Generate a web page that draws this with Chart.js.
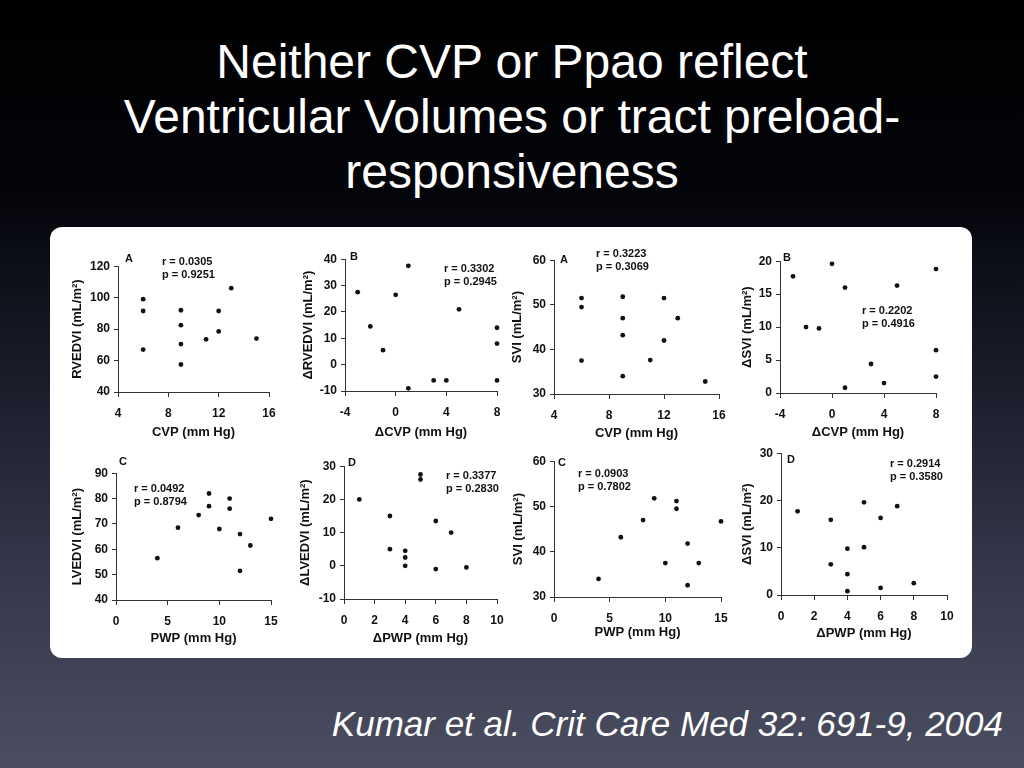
<!DOCTYPE html>
<html>
<head>
<meta charset="utf-8">
<script src="https://cdn.jsdelivr.net/npm/chart.js@4.4.1/dist/chart.umd.min.js"></script>
<style>
  html, body { margin: 0; padding: 0; }
  body {
    width: 1024px; height: 768px; overflow: hidden; position: relative;
    background: linear-gradient(to bottom, #000 0%, #04050a 25%, #1b1d2b 50%, #35384b 75%, #4b4e60 100%);
    font-family: "Liberation Sans", Arial, sans-serif;
  }
  #title {
    position: absolute; left: 0; top: 34px; width: 1024px;
    color: #fff; font-size: 48px; line-height: 55px; text-align: center;
  }
  #cite {
    position: absolute; right: 21px; top: 704px;
    color: #fff; font-size: 35px; font-style: italic; white-space: nowrap;
  }
  #card {
    position: absolute; left: 50px; top: 227px; width: 922px; height: 431px;
    background: #fff; border-radius: 12px;
  }
  .plot { position: absolute; }
  .note {
    position: absolute; color: #111; font-weight: bold; white-space: pre;
    font-size: 11px; line-height: 13px;
  }
</style>
</head>
<body>
<div id="title">Neither CVP or Ppao reflect<br>Ventricular Volumes or tract preload-<br>responsiveness</div>
<div id="card"></div>
<div id="cite">Kumar et al. Crit Care Med 32: 691-9, 2004</div>

<script>
// Eight scatter panels from Kumar et al. (2004).
const FONT = '"Liberation Sans", Arial, sans-serif';
const INK = "#111";
const AXIS = "#333";

// ─── Data ──────────────────────────────────────────────────────────────────
const cvpA      = [6, 6, 6, 9, 9, 9, 9, 11, 12, 12, 13, 15];
const rvedviA   = [99, 91.5, 67, 92, 82.5, 70.5, 57.5, 73.5, 91.5, 78.5, 106, 74];

const dCvpB     = [-3, -2, -1, 0, 1, 1, 3, 4, 5, 8, 8, 8];
const dRvedviB  = [27.5, 14.5, 5.5, 26.5, 37.5, -9, -6, -6, 21, 14, 8, -6];

const cvpSviA   = [6, 6, 6, 9, 9, 9, 9, 11, 12, 12, 13, 15];
const sviA      = [51.5, 49.5, 37.5, 51.8, 47, 43.2, 34, 37.6, 51.5, 42, 47, 32.8];

const dCvpSviB  = [-3, -2, -1, 0, 1, 1, 3, 4, 5, 8, 8, 8];
const dSviB     = [17.7, 10, 9.8, 19.6, 16, 0.8, 4.4, 1.5, 16.3, 18.8, 6.5, 2.5];

const pwpC      = [4, 6, 8, 9, 9, 10, 11, 11, 12, 12, 13, 15];
const lvedviC   = [56.5, 68.5, 73.5, 82, 77, 68, 80, 76, 66, 51.5, 61.5, 72];

const dPwpD     = [1, 3, 3, 4, 4, 4, 5, 5, 6, 6, 7, 8];
const dLvedviD  = [20, 15, 5, 4.5, 2.5, 0, 27.5, 26, 13.5, -1, 10, -0.5];

const pwpSviC   = [4, 6, 8, 9, 10, 11, 11, 12, 12, 13, 15];
const sviC      = [34, 43.2, 47, 51.8, 37.5, 51.2, 49.5, 41.8, 32.6, 37.5, 46.7];

const dPwpSviD  = [1, 3, 3, 4, 4, 4, 5, 5, 6, 6, 7, 8];
const dSviD     = [17.7, 15.9, 6.5, 9.8, 4.4, 0.8, 19.6, 10.1, 16.3, 1.5, 18.8, 2.5];

// axis ranges: [min, max, step]
const xCvp  = [4, 16, 4],  xDcvp = [-4, 8, 4],  xPwp = [0, 15, 5], xDpwp = [0, 10, 2];

// ─── Panels ────────────────────────────────────────────────────────────────
// box = [axisX, plotTop, plotRight, axisY] in page pixels; yOff/xOff = title distance
const PANELS = [
  { xs: cvpA, ys: rvedviA, xr: xCvp, yr: [40, 120, 20], xt: "CVP (mm Hg)", yt: "RVEDVI (mL/m²)",
    box: [118, 265, 269, 392], yOff: 40, xOff: 40,
    letter: ["A", 125, 252], stats: ["r = 0.0305\np = 0.9251", 162, 255] },
  { xs: dCvpB, ys: dRvedviB, xr: xDcvp, yr: [-10, 40, 10], xt: "ΔCVP (mm Hg)", yt: "ΔRVEDVI (mL/m²)",
    box: [345, 258, 497, 391], yOff: 36, xOff: 41,
    letter: ["B", 350, 250], stats: ["r = 0.3302\np = 0.2945", 444, 262] },
  { xs: cvpSviA, ys: sviA, xr: xCvp, yr: [30, 60, 10], xt: "CVP (mm Hg)", yt: "SVI (mL/m²)",
    box: [554, 259, 719, 394], yOff: 36, xOff: 39,
    letter: ["A", 560, 253], stats: ["r = 0.3223\np = 0.3069", 596, 247] },
  { xs: dCvpSviB, ys: dSviB, xr: xDcvp, yr: [0, 20, 5], xt: "ΔCVP (mm Hg)", yt: "ΔSVI (mL/m²)",
    box: [780, 260, 936, 393], yOff: 32, xOff: 39,
    letter: ["B", 783, 251], stats: ["r = 0.2202\np = 0.4916", 862, 304] },
  { xs: pwpC, ys: lvedviC, xr: xPwp, yr: [40, 90, 10], xt: "PWP (mm Hg)", yt: "LVEDVI (mL/m²)",
    box: [116, 472, 271, 600], yOff: 38, xOff: 38,
    letter: ["C", 119, 455], stats: ["r = 0.0492\np = 0.8794", 134, 482] },
  { xs: dPwpD, ys: dLvedviD, xr: xDpwp, yr: [-10, 30, 10], xt: "ΔPWP (mm Hg)", yt: "ΔLVEDVI (mL/m²)",
    box: [344, 465, 497, 599], yOff: 38, xOff: 39,
    letter: ["D", 348, 456], stats: ["r = 0.3377\np = 0.2830", 446, 469] },
  { xs: pwpSviC, ys: sviC, xr: xPwp, yr: [30, 60, 10], xt: "PWP (mm Hg)", yt: "SVI (mL/m²)",
    box: [554, 460, 721, 597], yOff: 35, xOff: 35,
    letter: ["C", 558, 456], stats: ["r = 0.0903\np = 0.7802", 578, 467] },
  { xs: dPwpSviD, ys: dSviD, xr: xDpwp, yr: [0, 30, 10], xt: "ΔPWP (mm Hg)", yt: "ΔSVI (mL/m²)",
    box: [781, 452, 947, 595], yOff: 33, xOff: 38,
    letter: ["D", 787, 453], stats: ["r = 0.2914\np = 0.3580", 890, 457] },
];

const TOP_PAD = 10, RIGHT_PAD = 16, TITLE_HALF = 13 * 1.2 / 2;

function axisOpts(range, title, fitFn) {
  return {
    type: "linear", min: range[0], max: range[1],
    ticks: { stepSize: range[2], color: INK, autoSkip: false, maxRotation: 0,
             font: { family: FONT, size: 12, weight: "bold" } },
    grid: { drawOnChartArea: false, color: AXIS, tickLength: 4 },
    border: { color: AXIS, width: 1 },
    title: { display: true, text: title, color: INK, padding: 0,
             font: { family: FONT, size: 13, weight: "bold" } },
    afterFit: fitFn,
  };
}

function addNote(text, left, top, size) {
  const d = document.createElement("div");
  d.className = "note";
  d.textContent = text;
  d.style.left = left + "px";
  d.style.top = top + "px";
  if (size) d.style.fontSize = size + "px";
  document.body.appendChild(d);
}

PANELS.forEach(p => {
  const [ax, top, right, ay] = p.box;
  const W = Math.round(p.yOff + TITLE_HALF);
  const H = Math.round(p.xOff + TITLE_HALF);
  const canvas = document.createElement("canvas");
  canvas.className = "plot";
  canvas.width = W + (right - ax) + RIGHT_PAD;
  canvas.height = TOP_PAD + (ay - top) + H;
  canvas.style.left = (ax - W) + "px";
  canvas.style.top = (top - TOP_PAD) + "px";
  document.body.appendChild(canvas);

  const xAxis = axisOpts(p.xr, p.xt, s => { s.height = H; });
  xAxis.ticks.padding = 9;
  xAxis.grid.tickLength = 5;
  const yAxis = axisOpts(p.yr, p.yt, s => { s.width = W; });
  yAxis.ticks.padding = 4;

  new Chart(canvas, {
    type: "scatter",
    data: {
      datasets: [{
        data: p.xs.map((x, i) => ({ x, y: p.ys[i] })),
        backgroundColor: INK, borderColor: INK,
        pointRadius: 2.4, borderWidth: 0,
        clip: false,
      }],
    },
    options: {
      responsive: false, animation: false,
      layout: { padding: { top: TOP_PAD, right: RIGHT_PAD, left: 0, bottom: 0 } },
      plugins: { legend: { display: false }, tooltip: { enabled: false } },
      scales: { x: xAxis, y: yAxis },
    },
  });

  addNote(p.letter[0], p.letter[1], p.letter[2], 11);
  addNote(p.stats[0], p.stats[1], p.stats[2]);
});
</script>
</body>
</html>
